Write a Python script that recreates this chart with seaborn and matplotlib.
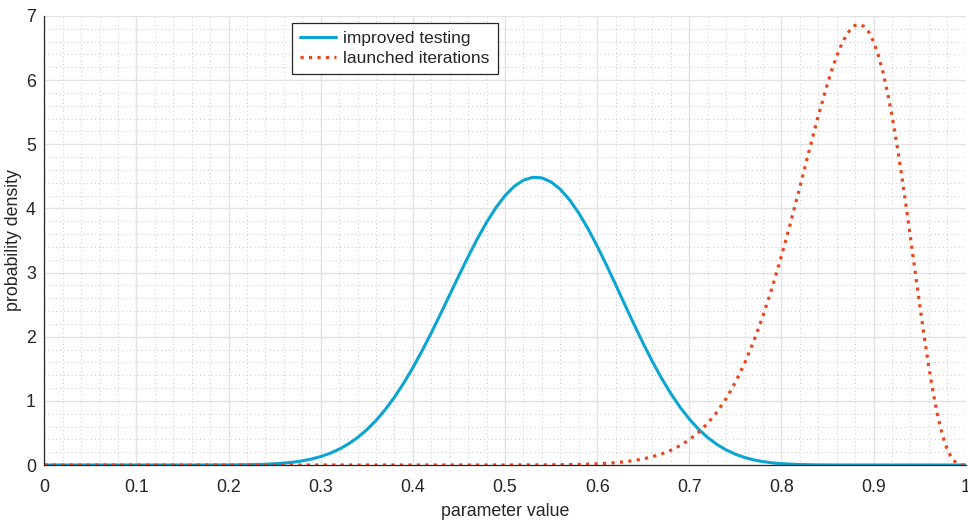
import matplotlib
matplotlib.use("Agg")
import matplotlib.pyplot as plt
from matplotlib.ticker import MultipleLocator, FuncFormatter
import seaborn as sns

# Density of the "improved testing" parameter
blue_x = [0.00, 0.15, 0.20, 0.22, 0.24, 0.25, 0.26, 0.27, 0.28, 0.29,
          0.30, 0.31, 0.32, 0.33, 0.34, 0.35, 0.36, 0.37, 0.38, 0.39,
          0.40, 0.41, 0.42, 0.43, 0.44, 0.45, 0.46, 0.47, 0.48, 0.49,
          0.50, 0.51, 0.52, 0.53, 0.54, 0.55, 0.56, 0.57, 0.58, 0.59,
          0.60, 0.61, 0.62, 0.63, 0.64, 0.65, 0.66, 0.67, 0.68, 0.69,
          0.70, 0.71, 0.72, 0.73, 0.74, 0.75, 0.76, 0.77, 0.78, 0.79,
          0.80, 0.82, 0.84, 0.86, 0.90, 1.00]
blue_y = [0.0, 0.00003, 0.0013, 0.0042, 0.0117, 0.0187, 0.0290, 0.0439, 0.0647, 0.0933,
          0.1316, 0.1819, 0.2463, 0.3275, 0.4278, 0.5494, 0.6940, 0.8630, 1.0569, 1.2754,
          1.5173, 1.7802, 2.0604, 2.3536, 2.6538, 2.9544, 3.2481, 3.5271, 3.7836, 4.0097,
          4.1985, 4.3437, 4.4404, 4.4851, 4.4761, 4.4134, 4.2987, 4.1357, 3.9294, 3.6864,
          3.4139, 3.1201, 2.8134, 2.5019, 2.1934, 1.8948, 1.6121, 1.3501, 1.1123, 0.9008,
          0.7166, 0.5594, 0.4281, 0.3208, 0.2351, 0.1683, 0.1175, 0.0798, 0.0527, 0.0337,
          0.0208, 0.0071, 0.0020, 0.0005, 0.0, 0.0]

# Density of the "launched iterations" parameter
red_x = [0.00, 0.45, 0.50, 0.55, 0.58, 0.60, 0.61, 0.62, 0.63, 0.64,
         0.65, 0.66, 0.67, 0.68, 0.69, 0.70, 0.71, 0.72, 0.73, 0.74,
         0.75, 0.76, 0.77, 0.78, 0.79, 0.80, 0.81, 0.82, 0.83, 0.84,
         0.85, 0.855, 0.86, 0.865, 0.87, 0.875, 0.88, 0.885, 0.89, 0.895,
         0.90, 0.905, 0.91, 0.915, 0.92, 0.925, 0.93, 0.935, 0.94, 0.945,
         0.95, 0.955, 0.96, 0.965, 0.97, 0.975, 0.98, 0.985, 0.99, 0.995, 1.00]
red_y = [0.0, 0.00002, 0.0003, 0.0028, 0.0089, 0.0184, 0.0261, 0.0366, 0.0508, 0.0699,
         0.0954, 0.1290, 0.1728, 0.2294, 0.3019, 0.3936, 0.5085, 0.6508, 0.8250, 1.0359,
         1.2879, 1.5849, 1.9299, 2.3245, 2.7678, 3.2561, 3.7821, 4.3339, 4.8942, 5.4406,
         5.9445, 6.1703, 6.3728, 6.5472, 6.6887, 6.7926, 6.8541, 6.8689, 6.8335, 6.7441,
         6.5986, 6.3955, 6.1348, 5.8177, 5.4469, 5.0276, 4.5663, 4.0717, 3.5544, 3.0268,
         2.5030, 1.9978, 1.5266, 1.1040, 0.7431, 0.4535, 0.2403, 0.1018, 0.0287, 0.0030, 0.0]

series_labels = ["improved testing", "launched iterations"]
x_label = "parameter value"
y_label = "probability density"

sns.set_theme(style="white")
plt.rcParams["font.family"] = ["Liberation Sans", "DejaVu Sans"]

ink = "#262626"
fig = plt.figure(figsize=(9.68, 5.2), dpi=100)
ax = fig.add_axes([44.3 / 968, 55 / 520, 921.4 / 968, 449 / 520])

sns.lineplot(x=blue_x, y=blue_y, ax=ax, color="#0aa5d3", linewidth=2.2,
             label=series_labels[0])
sns.lineplot(x=red_x, y=red_y, ax=ax, color="#e8471f", linewidth=2.3,
             linestyle=":", label=series_labels[1])

ax.set_xlim(0, 1)
ax.set_ylim(0, 7)
ax.xaxis.set_major_locator(MultipleLocator(0.1))
ax.xaxis.set_minor_locator(MultipleLocator(0.02))
ax.yaxis.set_major_locator(MultipleLocator(1))
ax.yaxis.set_minor_locator(MultipleLocator(0.2))
ax.xaxis.set_major_formatter(FuncFormatter(lambda v, p: f"{round(v, 2):g}"))
ax.yaxis.set_major_formatter(FuncFormatter(lambda v, p: f"{round(v, 2):g}"))

ax.set_axisbelow(True)
ax.grid(which="major", color="#e2e2e2", linewidth=1.0, linestyle="-")
ax.grid(which="minor", color="#c6c6c6", linewidth=0.7, linestyle=(0, (1, 3)))

ax.tick_params(which="major", direction="in", length=6.5, width=0.9,
               colors=ink, labelsize=12.8)
ax.tick_params(axis="x", which="major", pad=10)
ax.tick_params(axis="y", which="major", pad=6)
ax.tick_params(which="minor", length=0)
for side in ("top", "right"):
    ax.spines[side].set_visible(False)
for side in ("left", "bottom"):
    ax.spines[side].set_color(ink)
    ax.spines[side].set_linewidth(0.9)

ax.set_xlabel(x_label, fontsize=12.8, color=ink, labelpad=5)
ax.set_ylabel(y_label, fontsize=12.8, color=ink, labelpad=3)

leg = ax.legend(loc="upper left", bbox_to_anchor=(0.269, 0.985), borderaxespad=0,
                fontsize=12.5, handlelength=2.1, handletextpad=0.4,
                borderpad=0.45, labelspacing=0.3, fancybox=False,
                framealpha=1)
leg.get_frame().set_edgecolor(ink)
leg.get_frame().set_linewidth(0.9)

fig.savefig("out.png", dpi=100)
